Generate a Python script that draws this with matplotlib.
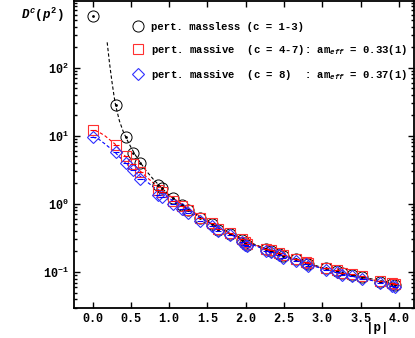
import matplotlib
matplotlib.use('Agg')
import matplotlib.pyplot as plt
import numpy as np

plt.rcParams['font.family'] = 'Liberation Mono'
plt.rcParams['font.weight'] = 'bold'
plt.rcParams['mathtext.fontset'] = 'custom'
plt.rcParams['mathtext.rm'] = 'Liberation Mono:bold'
plt.rcParams['mathtext.it'] = 'Liberation Mono:bold:italic'
plt.rcParams['mathtext.bf'] = 'Liberation Mono:bold'

# lattice momenta |p|
p = [0.0, 0.30, 0.43, 0.53, 0.62, 0.86, 0.90, 1.05, 1.165, 1.25, 1.40,
     1.56, 1.64, 1.79, 1.95, 1.99, 2.02, 2.27, 2.33, 2.43, 2.49, 2.66,
     2.79, 2.81, 3.05, 3.19, 3.26, 3.39, 3.52, 3.76, 3.91, 3.95]

massless = [570, 27.8, 9.7, 5.6, 4.0, 1.87, 1.72, 1.20, 0.95, 0.81, 0.61,
            0.515, 0.42, 0.367, 0.293, 0.265, 0.25, 0.214, 0.204, 0.183,
            0.171, 0.153, 0.136, 0.130, 0.113, 0.104, 0.0955, 0.090,
            0.0834, 0.072, 0.0666, 0.064]

massive47 = [12.2, 7.3, 5.0, 3.8, 2.95, 1.60, 1.50, 1.12, 0.92, 0.80, 0.61,
             0.52, 0.43, 0.375, 0.30, 0.272, 0.255, 0.22, 0.21, 0.188,
             0.176, 0.157, 0.140, 0.134, 0.116, 0.107, 0.098, 0.093,
             0.086, 0.074, 0.0685, 0.066]

massive8 = [9.5, 5.7, 4.0, 3.1, 2.35, 1.35, 1.28, 1.0, 0.84, 0.73, 0.57,
            0.48, 0.40, 0.345, 0.278, 0.252, 0.238, 0.204, 0.195, 0.175,
            0.163, 0.146, 0.129, 0.124, 0.107, 0.099, 0.091, 0.086,
            0.079, 0.068, 0.063, 0.061]

# fit curves
fit0_p = [0.19, 0.22, 0.25, 0.28, 0.30, 0.35, 0.40, 0.45, 0.50, 0.55, 0.60,
          0.70, 0.80, 0.90, 1.0, 1.2, 1.4, 1.6, 1.8, 2.0, 2.25, 2.5, 2.75,
          3.0, 3.25, 3.5, 3.75, 4.0]
fit0_y = [235, 118, 65, 38, 28, 16.5, 11.5, 8.7, 6.8, 5.4, 4.4,
          3.05, 2.25, 1.72, 1.34, 0.91, 0.64, 0.475, 0.365, 0.287, 0.222,
          0.176, 0.142, 0.116, 0.098, 0.085, 0.075, 0.066]

fit1_p = [0.03, 0.10, 0.16, 0.22, 0.29, 0.35, 0.42, 0.50, 0.60, 0.70, 0.80,
          0.90, 1.0, 1.2, 1.4, 1.6, 1.8, 2.0, 2.25, 2.5, 2.75, 3.0, 3.25,
          3.5, 3.75, 4.0]
fit1_y = [12.0, 11.0, 10.0, 8.8, 7.6, 6.3, 5.1, 4.1, 3.2, 2.5, 2.0,
          1.62, 1.33, 0.93, 0.66, 0.48, 0.365, 0.285, 0.218, 0.172, 0.139,
          0.114, 0.096, 0.083, 0.073, 0.065]

fit2_p = [0.0, 0.08, 0.16, 0.22, 0.29, 0.35, 0.42, 0.50, 0.60, 0.70, 0.80,
          0.90, 1.0, 1.2, 1.4, 1.6, 1.8, 2.0, 2.25, 2.5, 2.75, 3.0, 3.25,
          3.5, 3.75, 4.0]
fit2_y = [9.6, 8.9, 7.6, 6.7, 5.75, 4.9, 4.1, 3.35, 2.65, 2.15, 1.75,
          1.45, 1.21, 0.87, 0.63, 0.465, 0.355, 0.277, 0.213, 0.168, 0.136,
          0.112, 0.094, 0.081, 0.071, 0.063]

labels = ['pert. massless (c = 1-3)',
          r'pert. massive  (c = 4-7): am$_{eff}$ = 0.33(1)',
          r'pert. massive  (c = 8)  : am$_{eff}$ = 0.37(1)']

fig = plt.figure(figsize=(4.15, 3.38), dpi=100)
ax = fig.add_axes([0.178, 0.089, 0.82, 0.908])

ax.plot(fit0_p, fit0_y, '--', color='black', lw=0.8, dashes=(3, 2))
ax.plot(fit1_p, fit1_y, '--', color='red', lw=0.8, dashes=(3, 2))
ax.plot(fit2_p, fit2_y, '--', color='blue', lw=0.8, dashes=(3, 2))

h0, = ax.plot(p, massless, 'o', mfc='none', mec='black', ms=8, mew=0.7,
              label=labels[0])
h1, = ax.plot(p, massive47, 's', mfc='none', mec='#ff3030', ms=7, mew=0.8,
              label=labels[1])
h2, = ax.plot(p, massive8, 'D', mfc='none', mec='#3030ff', ms=6, mew=0.8,
              label=labels[2])
ax.plot(p, massless, '.', color='black', ms=2)
ax.plot(p, massive47, '_', color='red', ms=4, mew=0.8)
ax.plot(p, massive8, '_', color='blue', ms=4, mew=0.8)

ax.set_yscale('log')
ax.set_xlim(-0.245, 4.2)
ax.set_ylim(0.0297, 950)

ax.set_xticks(np.arange(0, 4.01, 0.5))
ax.set_xticklabels(['%.1f' % v for v in np.arange(0, 4.01, 0.5)])
ax.set_yticks([0.1, 1, 10, 100])
ax.set_yticklabels([r'$10^{-1}$', r'$10^{0}$', r'$10^{1}$', r'$10^{2}$'])
ax.tick_params(which='both', direction='in', top=True, right=True,
               labelsize=8.5, width=1)
ax.tick_params(which='major', length=4)
ax.tick_params(which='minor', length=2)
for s in ax.spines.values():
    s.set_linewidth(1.3)

fig.text(0.05, 0.955, r'$D^c(p^2)$', fontsize=9, ha='left', va='center')
fig.text(0.91, 0.03, '|p|', fontsize=9, ha='center', va='center')

ax.legend(handles=[h0, h1, h2], loc='upper left',
          bbox_to_anchor=(0.16, 0.947), frameon=False,
          prop={'family': 'Liberation Mono', 'weight': 'bold', 'size': 7.65},
          handlelength=1.0, handletextpad=0.75, labelspacing=1.05,
          borderaxespad=0)

fig.savefig('out.png', dpi=100)
